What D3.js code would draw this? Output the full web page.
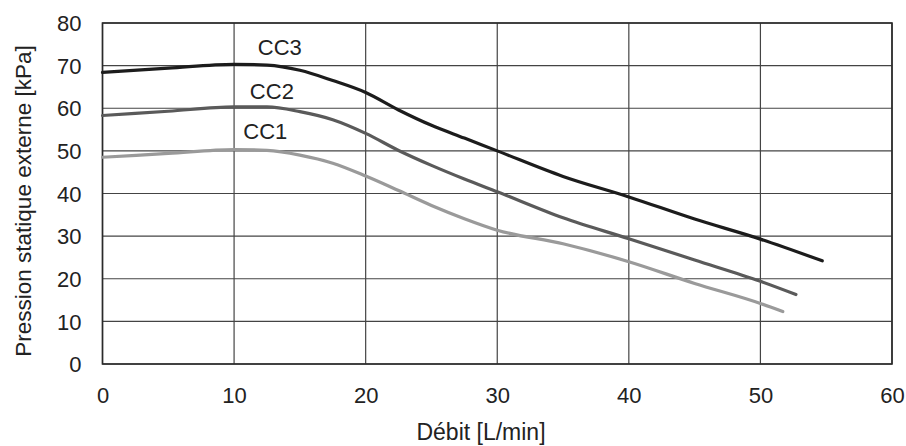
<!DOCTYPE html>
<html><head><meta charset="utf-8">
<script src="https://cdn.jsdelivr.net/npm/d3@7"></script>
<style>body{margin:0;background:#fff}svg{display:block}text{font-family:"Liberation Sans",Arial,sans-serif;fill:#222}</style>
</head><body>
<svg id="chart" width="906" height="446"></svg>
<script>
const xTicks = [0, 10, 20, 30, 40, 50, 60];
const yTicks = [0, 10, 20, 30, 40, 50, 60, 70, 80];
const seriesNames = ["CC3", "CC2", "CC1"];
const cc3Flow = [0, 5, 10, 12.5, 15, 17.5, 20, 22.5, 25, 27.5, 30, 35, 40, 45, 50, 54.7];
const cc3Pressure = [68.4, 69.4, 70.3, 70.1, 68.9, 66.5, 63.7, 59.6, 56.0, 53.0, 50.0, 44.0, 39.2, 34.0, 29.3, 24.2];
const cc2Flow = [0, 5, 10, 12.5, 15, 17.5, 20, 22.5, 25, 27.5, 30, 35, 40, 45, 50, 52.7];
const cc2Pressure = [58.3, 59.3, 60.3, 60.3, 59.2, 57.3, 54.1, 50.1, 46.6, 43.4, 40.4, 34.3, 29.4, 24.4, 19.4, 16.3];
const cc1Flow = [0, 5, 10, 12.5, 15, 17.5, 20, 22.5, 25, 27.5, 30, 35, 40, 45, 50, 51.7];
const cc1Pressure = [48.5, 49.4, 50.3, 50.1, 49.0, 47.1, 44.1, 40.7, 37.2, 34.1, 31.4, 28.2, 24.0, 18.9, 14.2, 12.3];
const seriesColors = ["#1c1c1c", "#5a5a5a", "#9a9a9a"];
const labelPos = [[11.8, 74.4], [11.2, 63.9], [10.7, 54.6]];

const svg = d3.select("#chart");
const m = {l: 102.5, r: 892, t: 23, b: 364};
const x = d3.scaleLinear().domain([0, 60]).range([m.l, m.r]);
const y = d3.scaleLinear().domain([0, 80]).range([m.b, m.t]);

// grid
svg.append("g").selectAll("line").data(yTicks).join("line")
  .attr("x1", m.l).attr("x2", m.r).attr("y1", d => y(d)).attr("y2", d => y(d))
  .attr("stroke", "#444").attr("stroke-width", 1.2);
svg.append("g").selectAll("line").data(xTicks).join("line")
  .attr("x1", d => x(d)).attr("x2", d => x(d)).attr("y1", m.t).attr("y2", m.b)
  .attr("stroke", "#444").attr("stroke-width", 1.2);
svg.append("rect").attr("x", m.l).attr("y", m.t).attr("width", m.r - m.l).attr("height", m.b - m.t)
  .attr("fill", "none").attr("stroke", "#2a2a2a").attr("stroke-width", 1.6);

// axes (labels only)
const xAxis = d3.axisBottom(x).tickValues(xTicks).tickSize(0).tickPadding(0);
const gx = svg.append("g").attr("transform", `translate(0,${m.b})`).call(xAxis);
gx.select(".domain").remove();
gx.selectAll("text").attr("dy", 0).attr("y", 39).style("font-size", "22px").attr("fill", "#222");
const yAxis = d3.axisLeft(y).tickValues(yTicks).tickSize(0).tickPadding(0);
const gy = svg.append("g").attr("transform", `translate(${m.l},0)`).call(yAxis);
gy.select(".domain").remove();
gy.selectAll("text").attr("x", -21).attr("dy", "0.35em").style("font-size", "22px").attr("fill", "#222");

// series
const flows = [cc3Flow, cc2Flow, cc1Flow];
const pressures = [cc3Pressure, cc2Pressure, cc1Pressure];
const line = d3.line().x(d => x(d[0])).y(d => y(d[1])).curve(d3.curveMonotoneX);
seriesNames.forEach((name, i) => {
  const pts = flows[i].map((f, j) => [f, pressures[i][j]]);
  svg.append("path").datum(pts).attr("d", line)
    .attr("fill", "none").attr("stroke", seriesColors[i]).attr("stroke-width", 3.2)
    .attr("stroke-linecap", "round");
  svg.append("text").attr("x", x(labelPos[i][0])).attr("y", y(labelPos[i][1]))
    .attr("dy", "0.35em").style("font-size", "22px").text(name);
});

// axis titles
svg.append("text").attr("x", 481).attr("y", 440).attr("text-anchor", "middle")
  .style("font-size", "23px").text("Débit [L/min]");
svg.append("text").attr("transform", "translate(31,201) rotate(-90)").attr("text-anchor", "middle")
  .style("font-size", "22.5px").text("Pression statique externe [kPa]");
</script>
</body></html>
